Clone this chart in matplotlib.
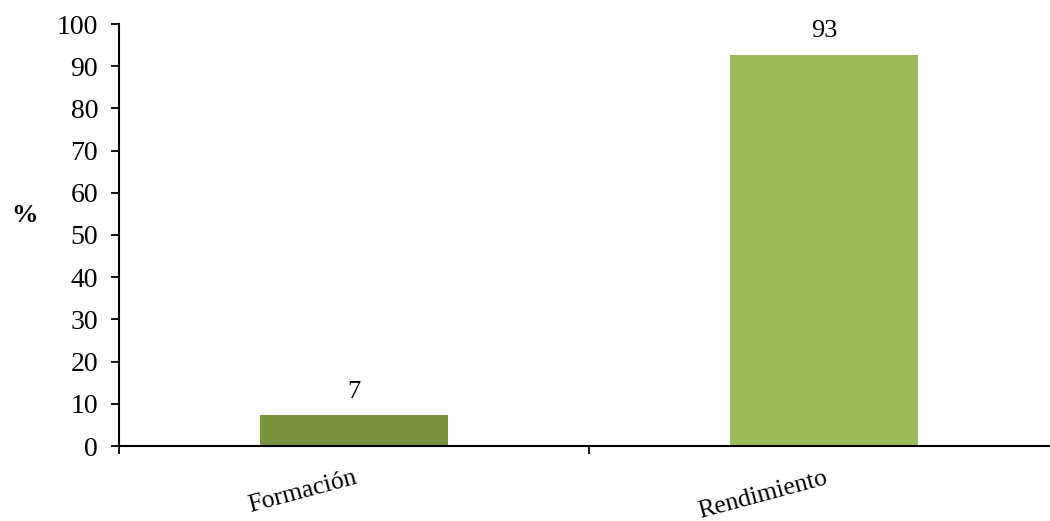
import matplotlib.pyplot as plt

categories = ['Formación', 'Rendimiento']
values = [7.3, 92.7]
labels = ['7', '93']
colors = ['#77933C', '#9BBB59']

plt.rcParams['font.family'] = ['Liberation Serif', 'DejaVu Serif']

fig = plt.figure(figsize=(10.5, 5.21), dpi=100)
ax = fig.add_axes([119 / 1050, 75 / 521, 940 / 1050, 422 / 521])

x = list(range(len(categories)))
bars = ax.bar(x, values, width=0.4, color=colors, zorder=2)

# value labels above bars
for b, lab in zip(bars, labels):
    ax.annotate(lab, (b.get_x() + b.get_width() / 2, b.get_height()),
                xytext=(0, 9), textcoords='offset points',
                ha='center', va='bottom', fontsize=19)

ax.set_xlim(-0.5, len(categories) - 0.5)
ax.set_ylim(0, 100)
ax.set_yticks(range(0, 101, 10))
ax.tick_params(axis='y', labelsize=20, length=6, width=1.3, direction='out', pad=9)

# category boundaries get the ticks, labels sit at centres
ax.set_xticks([i - 0.5 for i in range(len(categories) + 1)])
ax.set_xticklabels([])
ax.tick_params(axis='x', which='major', length=6, width=1.3, direction='out')
ax.set_xticks(x, minor=True)
ax.set_xticklabels(categories, minor=True, rotation=15, ha='right',
                   rotation_mode='anchor', fontsize=18.5)
ax.tick_params(axis='x', which='minor', length=0, pad=15)

for s in ['top', 'right']:
    ax.spines[s].set_visible(False)
for s in ['left', 'bottom']:
    ax.spines[s].set_linewidth(1.5)

ax.set_ylabel('%', rotation=0, fontweight='bold', fontsize=19)
ax.yaxis.set_label_coords(-0.1, 0.52)

fig.savefig('out.png', dpi=100)
